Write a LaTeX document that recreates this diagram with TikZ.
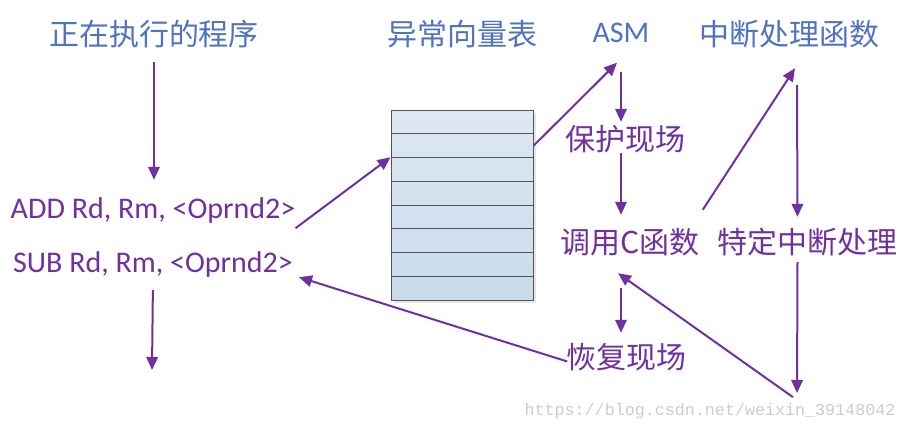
\documentclass[tikz,border=0pt]{standalone}
\usepackage{fontspec}
\setmainfont{Carlito}
\setmonofont{Liberation Mono}
\newfontfamily\cjk{Noto Sans CJK SC}
\usetikzlibrary{arrows.meta,calc}

\definecolor{titleblue}{RGB}{79,115,192}
\definecolor{flowpurple}{RGB}{112,48,160}
\definecolor{rowtop}{RGB}{221,232,242}
\definecolor{rowbottom}{RGB}{200,219,235}
\definecolor{rowline}{RGB}{85,85,85}

\begin{document}
\begin{tikzpicture}[
  x=1pt, y=-1pt,
  title/.style={text=titleblue, font=\cjk\fontsize{30}{30}\selectfont, inner sep=0pt, text height=25pt, text depth=6pt},
  code/.style={text=flowpurple, font=\fontsize{30}{30}\selectfont, inner sep=0pt, text height=25pt, text depth=6pt},
  stage/.style={text=flowpurple, font=\cjk\fontsize{30}{30}\selectfont, inner sep=0pt, text height=25pt, text depth=6pt},
  vectable/.style={draw=rowline, line width=1pt, top color=rowtop, bottom color=rowbottom, minimum width=142pt, minimum height=190pt, inner sep=0pt},
  flow/.style={-{Triangle[length=13pt,width=11.5pt]}, line width=2pt, draw=flowpurple},
  watermark/.style={text=black!20, font=\ttfamily\fontsize{16.7}{17}\selectfont, inner sep=0pt}
]
\useasboundingbox (0,0) rectangle (906,432);

% headings
\node[title] (prog) at (154,35.5) {正在执行的程序};
\node[title] (vec) at (462,35.5) {异常向量表};
\node[title, font=\fontsize{30}{30}\selectfont] (asm) at (621,33) {ASM};
\node[title] (isr) at (789,35.5) {中断处理函数};

% program
\node[code] (add) at (153,208.5) {ADD Rd, Rm, <Oprnd2>};
\node[code] (sub) at (153,262.5) {SUB Rd, Rm, <Oprnd2>};
\coordinate (cont) at (152,370);

% vector table
\fill[black!10] (394,113) rectangle (536,303);
\node[vectable] (tbl) at (462,205) {};
\foreach \k in {1,...,7}
  \draw[rowline, line width=1pt] ($(tbl.north west)!\k/8!(tbl.south west)$) -- ($(tbl.north east)!\k/8!(tbl.south east)$);

% handler steps
\node[stage] (save) at (625,140.5) {保护现场};
\node[stage] (callc) at (630,243.5) {{\cjk 调用}C{\cjk 函数}};
\node[stage] (spec) at (807.5,243.5) {特定中断处理};
\node[stage] (restore) at (626.5,358.5) {恢复现场};
\coordinate (back) at (797,400);

\node[watermark] (wm) at (710,411) {https://blog.csdn.net/weixin\_39148042};

% connectors
\draw[flow, shorten <=11pt, shorten >=13pt] (prog.south) -- (prog.south |- add.north);
\draw[flow, shorten <=12pt] (sub.south) -- (cont);
\draw[flow] ($(add.south east)+(0,4)$) -- ($(tbl.north west)!0.25!(tbl.south west)$);
\draw[flow] ($(tbl.north east)!0.19!(tbl.south east)$) -- ($(asm.south)+(-4,14)$);
\draw[flow, shorten <=23pt, shorten >=3pt] (asm.south) -- (asm.south |- save.north);
\draw[flow, shorten <=-3pt, shorten >=13pt] (asm.south |- save.south) -- (asm.south |- callc.north);
\draw[flow, shorten <=29pt, shorten >=10pt] (asm.south |- callc.south) -- (asm.south |- restore.north);
\draw[flow] ($(callc.north east)+(3,-18)$) -- ($(isr.south)+(6,17)$);
\draw[flow] ($(isr.south)+(8,34)$) -- ($(spec.north)+(-10,-11)$);
\draw[flow, shorten >=7pt] ($(spec.south)+(-10,3)$) -- (back);
\draw[flow, shorten <=5pt] (back) -- ($(callc.south)+(-12,14)$);
\draw[flow] ($(restore.west)+(1,3)$) -- ($(sub.south east)+(6,-1)$);

\end{tikzpicture}
\end{document}
